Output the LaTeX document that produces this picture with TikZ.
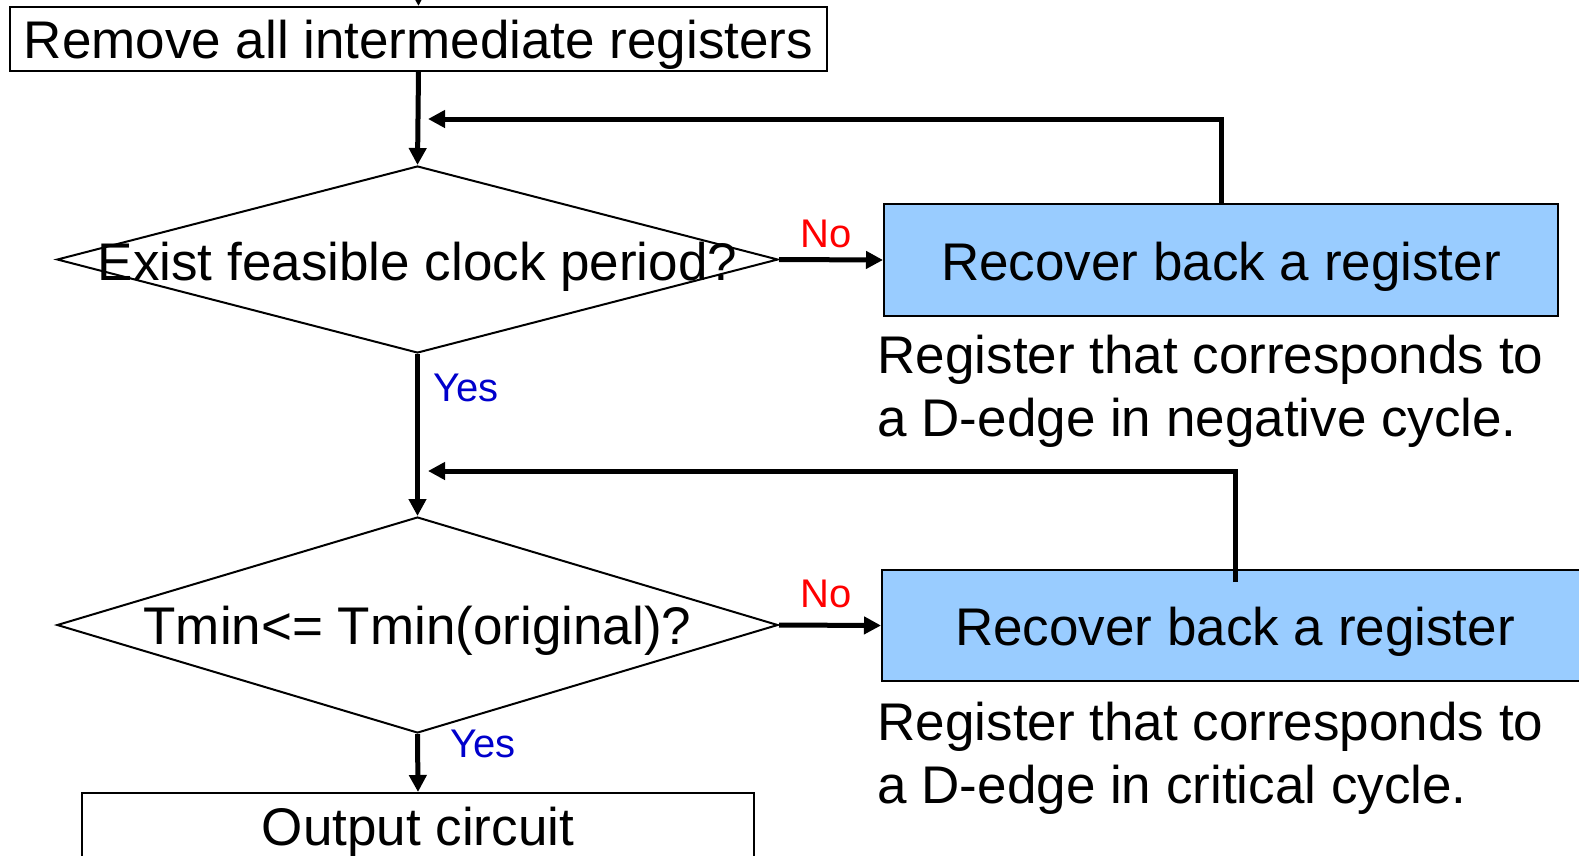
\documentclass[tikz,border=0pt]{standalone}
\usepackage{fontspec}
\setmainfont{Liberation Sans}
\usetikzlibrary{arrows.meta,shapes.geometric}
\definecolor{boxblue}{HTML}{99CCFF}
\definecolor{yesblue}{HTML}{0000CC}
\tikzset{
  bigtext/.style={font=\fontsize{53}{63}\selectfont},
  boxtext/.style={bigtext, text height=40pt, text depth=0pt},
  smalltext/.style={font=\fontsize{40}{46}\selectfont},
  plainbox/.style={draw=black, line width=2pt, fill=white, inner sep=0pt, boxtext},
  recoverbox/.style={draw=black, line width=2pt, fill=boxblue, inner sep=0pt, boxtext},
  decision/.style={shape=diamond, draw=black, line width=2pt, inner sep=0pt, fill=white},
  flow/.style={line width=5pt, -{Triangle[length=17pt,width=17pt]}},
  nolabel/.style={text=red, smalltext},
  yeslabel/.style={text=yesblue, smalltext},
}
\begin{document}
\begin{tikzpicture}[x=1pt, y=-1pt]
\useasboundingbox (0,0) rectangle (1579,855);
\fill[white] (0,0) rectangle (1579,855);
\clip (0,0) rectangle (1579,855);

% process boxes
\node[plainbox, minimum width=817pt, minimum height=63.5pt] (rm) at (418.5,38.75) {Remove all intermediate registers};
\node[plainbox, minimum width=672pt, minimum height=64pt] (out) at (418,825) {Output circuit};

% decisions
\node[decision, minimum width=721pt, minimum height=187pt] (d1) at (417.5,259.5) {};
\node[bigtext] (t1) at (417.5,267) {Exist feasible clock period?};
\node[decision, minimum width=721pt, minimum height=216pt] (d2) at (417.5,625) {};
\node[bigtext] (t2) at (417.5,631) {Tmin<= Tmin(original)?};

% recovery boxes
\node[recoverbox, minimum width=674pt, minimum height=112pt] (b1) at (1221,260) {Recover back a register};
\node[recoverbox, minimum width=706pt, minimum height=111pt] (b2) at (1235,625.5) {Recover back a register};

% notes under the recovery boxes
\node[bigtext, align=left, anchor=west] (n1) at (874,391) {Register that corresponds to\\a D-edge in negative cycle.};
\node[bigtext, align=left, anchor=west] (n2) at (874,758) {Register that corresponds to\\a D-edge in critical cycle.};

% connectors
\coordinate (in) at (418,-30);
\coordinate (f1) at (428,119);
\coordinate (f2) at (428,471);
\draw[flow] (in) -- (rm.north);
\draw[flow] (rm.south) -- (d1.north);
\draw[flow] (d1.south) -- (d2.north);
\draw[flow] (d2.south) -- (out.north);
\draw[flow] (d1.east) -- (b1.west);
\draw[flow] (d2.east) -- (b2.west);
\draw[flow] (b1.north) |- (f1);
\draw[flow] ([yshift=-13pt]b2.north) |- (f2);

% branch labels
\node[nolabel] (no1) at (826,234) {No};
\node[nolabel] (no2) at (826,594) {No};
\node[yeslabel] (yes1) at (466,388) {Yes};
\node[yeslabel] (yes2) at (483,744) {Yes};
\end{tikzpicture}
\end{document}
